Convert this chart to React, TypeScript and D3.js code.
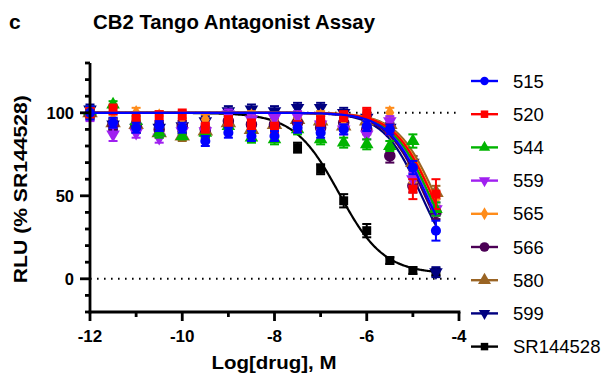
import React from "react";
import * as d3 from "d3";

const W = 609;
const H = 373;
const MARGIN = { top: 63, left: 90, right: 150, bottom: 61 };

const logDose = [-12, -11.5, -11, -10.5, -10, -9.5, -9, -8.5, -8, -7.5, -7, -6.5, -6, -5.5, -5, -4.5];

const names = ["515", "520", "544", "559", "565", "566", "580", "599", "SR144528"];
const colors = ["#0000ff", "#ff0000", "#00b400", "#a020f0", "#ff8c1a", "#4b0055", "#9a6424", "#000080", "#000000"];
const shapes = ["circle", "square", "triangle", "triangleDown", "diamond", "circleBig", "triangleBig", "triangleDown", "square"];

const values = [
  [100, 94, 91, 92, 91, 83, 88, 86, 86, 91, 88, 90, 92, 90, 67, 29],
  [100, 102, 97, 98, 99, 91, 95, 93, 91, 92, 95, 98, 100, 90, 54, 51],
  [101, 105, 95, 88, 86, 88, 92, 85, 84, 90, 84, 82, 81, 80, 83, 42],
  [98, 87, 88, 85, 89, 89, 99, 96, 97, 98, 93, 90, 87, 95, 60, 42],
  [100, 96, 100, 98, 97, 96, 96, 98, 96, 97, 98, 96, 97, 100, 62, 48],
  [99, 93, 92, 90, 92, 90, 95, 93, 93, 94, 91, 94, 90, 74, 56, 40],
  [100, 94, 93, 88, 86, 89, 94, 90, 93, 96, 95, 92, 95, 93, 70, 52],
  [102, 93, 91, 91, 92, 95, 101, 102, 101, 103, 103, 100, 97, 91, 70, 4],
  [100, 92, 91, 91, 90, 88, 93, 91, 93, 79, 66, 47, 29, 11, 5, 4],
];

const errors = [
  [4, 3, 3, 3, 3, 3, 3, 3, 3, 3, 3, 3, 3, 3, 4, 6],
  [3, 3, 3, 3, 3, 3, 3, 3, 3, 3, 3, 3, 3, 3, 6, 9],
  [3, 2, 3, 3, 2, 3, 3, 3, 3, 3, 3, 3, 3, 3, 4, 4],
  [3, 4, 3, 3, 3, 3, 3, 3, 3, 3, 3, 3, 3, 3, 4, 4],
  [3, 3, 3, 3, 3, 3, 3, 3, 3, 3, 3, 3, 3, 3, 4, 4],
  [3, 3, 3, 3, 3, 3, 3, 3, 3, 3, 3, 3, 3, 4, 4, 4],
  [3, 3, 3, 3, 3, 3, 3, 3, 3, 3, 3, 3, 3, 3, 4, 4],
  [3, 3, 3, 3, 3, 3, 3, 3, 3, 3, 3, 3, 3, 3, 4, 3],
  [3, 3, 3, 3, 3, 3, 3, 3, 3, 3, 3, 4, 4, 2, 2, 2],
];

// fitted 4PL parameters: top, bottom, logIC50, hill
const fitTop = [100, 100, 100, 100, 100, 100, 100, 100, 100];
const fitBottom = [0, 0, 0, 0, 0, 0, 0, 0, 3];
const fitIC50 = [-4.7, -4.583, -4.633, -4.65, -4.566, -4.738, -4.517, -4.811, -6.6];
const fitHill = [1.05, 1.05, 1.05, 1.05, 1.05, 1.05, 1.05, 1.05, 0.9];

const xTicksMajor = [-12, -10, -8, -6, -4];
const xTicksMinor = [-11, -9, -7, -5];
const yTicksMajor = [0, 50, 100];
const yTicksMinor = [-20, -10, 10, 20, 30, 40, 60, 70, 80, 90, 110, 120, 130];

const FONT = "Liberation Sans, Arial, Helvetica, sans-serif";

const symbolPath = (shape: string, size: number) => {
  const map: Record<string, any> = {
    circle: d3.symbolCircle,
    circleBig: d3.symbolCircle,
    square: d3.symbolSquare,
    triangle: d3.symbolTriangle,
    triangleBig: d3.symbolTriangle,
    triangleDown: d3.symbolTriangle,
    diamond: d3.symbolDiamond,
  };
  return d3.symbol().type(map[shape]).size(size)() as string;
};

const Marker = ({ shape, color, x, y, scale = 1 }) => {
  const big = shape === "circleBig" || shape === "triangleBig";
  const size = (big ? 105 : shape === "diamond" ? 70 : 80) * scale;
  const rot = shape === "triangleDown" ? 180 : 0;
  return (
    <path
      d={symbolPath(shape, size)}
      fill={color}
      transform={`translate(${x},${y}) rotate(${rot})`}
    />
  );
};

export default function App() {
  const boundsW = W - MARGIN.left - MARGIN.right;
  const boundsH = H - MARGIN.top - MARGIN.bottom;
  const x = d3.scaleLinear().domain([-12, -4]).range([MARGIN.left, MARGIN.left + boundsW]);
  const y = d3.scaleLinear().domain([-20, 130]).range([MARGIN.top + boundsH, MARGIN.top]);

  const curveX = d3.range(-12, -4.5 + 1e-9, 0.02);
  const line = d3
    .line<[number, number]>()
    .x((d) => x(d[0]))
    .y((d) => y(d[1]));

  const order = names.map((_, i) => i).reverse();

  const legendY = (i: number) => 81 + i * 33.2;

  return (
    <svg width={W} height={H} style={{ position: "absolute", left: 0, top: 0 }} fontFamily={FONT}>
      <rect width={W} height={H} fill="#fff" />
      <text x={9} y={29} fontSize={21} fontWeight="bold">c</text>
      <text x={93} y={29} fontSize={20} fontWeight="bold" textLength={282} lengthAdjust="spacingAndGlyphs">
        CB2 Tango Antagonist Assay
      </text>

      {/* dotted reference lines */}
      {[100, 0].map((v) => (
        <line
          key={v}
          x1={x(-12)}
          x2={x(-4)}
          y1={y(v)}
          y2={y(v)}
          stroke="#000"
          strokeWidth={2}
          strokeDasharray="1.6 5.4"
        />
      ))}

      {/* series */}
      {order.map((s) => {
        const pts = curveX.map(
          (xx) =>
            [xx, fitBottom[s] + (fitTop[s] - fitBottom[s]) / (1 + Math.pow(10, fitHill[s] * (xx - fitIC50[s])))] as [number, number]
        );
        return (
          <g key={names[s]}>
            <path d={line(pts) as string} fill="none" stroke={colors[s]} strokeWidth={2.2} />
            {logDose.map((d, i) => {
              const v = values[s][i];
              const e = errors[s][i];
              const cx = x(d);
              return (
                <g key={i} stroke={colors[s]} strokeWidth={2}>
                  <line x1={cx} x2={cx} y1={y(v + e)} y2={y(v - e)} />
                  <line x1={cx - 4.5} x2={cx + 4.5} y1={y(v + e)} y2={y(v + e)} />
                  <line x1={cx - 4.5} x2={cx + 4.5} y1={y(v - e)} y2={y(v - e)} />
                </g>
              );
            })}
            {logDose.map((d, i) => (
              <Marker key={i} shape={shapes[s]} color={colors[s]} x={x(d)} y={y(values[s][i])} />
            ))}
          </g>
        );
      })}

      {/* axes */}
      <g stroke="#000" strokeWidth={2.8}>
        <line x1={x(-12)} x2={x(-12)} y1={y(130)} y2={y(-20) + 1.4} />
        <line x1={x(-12) - 1.4} x2={x(-4) + 1.4} y1={y(-20)} y2={y(-20)} />
        {xTicksMajor.map((t) => (
          <line key={t} x1={x(t)} x2={x(t)} y1={y(-20)} y2={y(-20) + 9} />
        ))}
        {xTicksMinor.map((t) => (
          <line key={t} x1={x(t)} x2={x(t)} y1={y(-20)} y2={y(-20) + 5} />
        ))}
        {yTicksMajor.map((t) => (
          <line key={t} x1={x(-12)} x2={x(-12) - 10} y1={y(t)} y2={y(t)} />
        ))}
        {yTicksMinor.map((t) => (
          <line key={t} x1={x(-12)} x2={x(-12) - 5} y1={y(t)} y2={y(t)} />
        ))}
      </g>
      {xTicksMajor.map((t) => (
        <text key={t} x={x(t)} y={y(-20) + 30} fontSize={17} fontWeight="bold" textAnchor="middle">
          {t}
        </text>
      ))}
      {yTicksMajor.map((t) => (
        <text key={t} x={x(-12) - 16} y={y(t) + 6} fontSize={16.5} fontWeight="bold" textAnchor="end">
          {t}
        </text>
      ))}
      <text
        x={274}
        y={369}
        fontSize={18.5}
        fontWeight="bold"
        textAnchor="middle"
        textLength={125}
        lengthAdjust="spacingAndGlyphs"
      >
        Log[drug], M
      </text>
      <text
        transform={`translate(27,${y(54)}) rotate(-90)`}
        fontSize={18.5}
        fontWeight="bold"
        textAnchor="middle"
        textLength={188}
        lengthAdjust="spacingAndGlyphs"
      >
        RLU (% SR144528)
      </text>

      {/* legend */}
      {names.map((n, i) => (
        <g key={n}>
          <line x1={471} x2={498} y1={legendY(i)} y2={legendY(i)} stroke={colors[i]} strokeWidth={2.4} />
          <Marker shape={shapes[i]} color={colors[i]} x={484.5} y={legendY(i)} scale={0.7} />
          <text x={513} y={legendY(i) + 6.5} fontSize={18.5}>
            {n}
          </text>
        </g>
      ))}
    </svg>
  );
}
